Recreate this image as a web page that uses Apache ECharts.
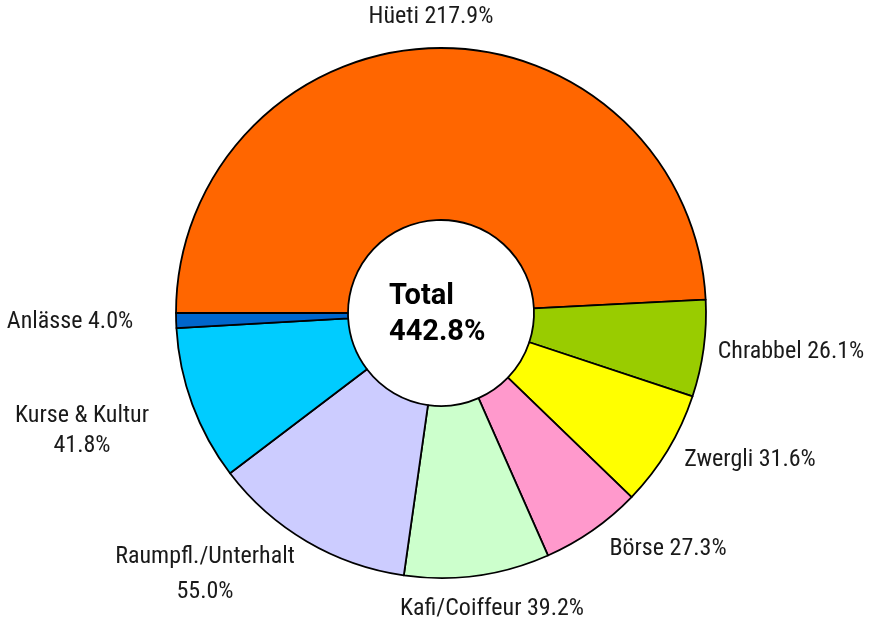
<!DOCTYPE html>
<html><head><meta charset="utf-8">
<script src="https://cdn.jsdelivr.net/npm/echarts@6/dist/echarts.min.js"></script>
<style>html,body{margin:0;padding:0;background:#fff}#c{width:876px;height:622px}</style>
</head><body><div id="c"></div>
<script>
const categories = ['Hüeti', 'Chrabbel', 'Zwergli', 'Börse', 'Kafi/Coiffeur', 'Raumpfl./Unterhalt', 'Kurse & Kultur', 'Anlässe'];
const values = [217.9, 26.1, 31.6, 27.3, 39.2, 55.0, 41.8, 4.0];
const colors = ['#FF6600', '#99CC00', '#FFFF00', '#FF99CC', '#CCFFCC', '#CCCCFF', '#00CCFF', '#0066CC'];
const twoLine = ['Raumpfl./Unterhalt', 'Kurse & Kultur'];
const totalText = 'Total\n442.8%';
// label text centres (annotation placement)
const labelCenters = [[431, 17], [791, 352], [750, 460], [668, 549], [492, 609], [205, 574], [82, 431], [70, 322]];
const labelLineHeights = [30, 30, 30, 30, 30, 35, 30, 30];

const FONT = 'Roboto Condensed';
const chart = echarts.init(document.getElementById('c'), null, {renderer: 'canvas'});
chart.setOption({
  animation: false,
  backgroundColor: '#fff',
  graphic: [{
    type: 'text', left: 389, top: 279,
    style: { text: totalText, font: 'bold 29px "Roboto"', fill: '#000', lineHeight: 36 }
  }],
  series: [{
    type: 'pie',
    center: [441, 313],
    radius: [93, 265],
    startAngle: 180,
    clockwise: true,
    avoidLabelOverlap: false,
    itemStyle: { borderColor: '#000', borderWidth: 1.8 },
    label: {
      show: true, position: 'outside', color: '#1a1a1a', fontFamily: FONT, fontSize: 24,
      formatter: p => {
        const v = p.value.toFixed(1) + '%';
        if (twoLine.includes(p.name)) return '{c|' + p.name + '}\n{c|' + v + '}';
        return p.name + ' ' + v;
      },
      rich: { c: { align: 'center', fontFamily: FONT, fontSize: 24, color: '#1a1a1a' } }
    },
    labelLine: { show: false, length: 12, length2: 0 },
    labelLayout: p => ({
      x: labelCenters[p.dataIndex][0],
      y: labelCenters[p.dataIndex][1],
      align: 'center',
      verticalAlign: 'middle'
    }),
    emphasis: { disabled: true },
    data: categories.map((n, i) => ({
      name: n, value: values[i], itemStyle: { color: colors[i] },
      label: { rich: { c: { align: 'center', fontFamily: FONT, fontSize: 24, color: '#1a1a1a', lineHeight: labelLineHeights[i] } } }
    }))
  }]
});
</script></body></html>
